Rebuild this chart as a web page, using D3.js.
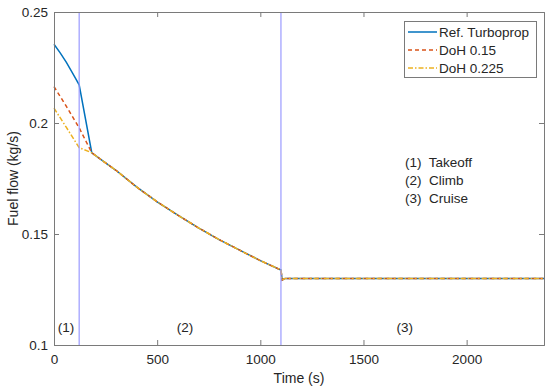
<!DOCTYPE html>
<html>
<head>
<meta charset="utf-8">
<script src="https://cdn.jsdelivr.net/npm/d3@7"></script>
<style>
  body { margin: 0; background: #fff; }
  svg text { font-family: Arial, "Liberation Sans", sans-serif; fill: #262626; }
</style>
</head>
<body>
<script>
// fuel flow series (time s, kg/s)
var climbT = [183, 250, 300, 400, 500, 600, 700, 800, 900, 1000, 1100, 1106, 1120, 1500, 2000, 2375];
var climbV = [0.1866, 0.1820, 0.1787, 0.1712, 0.1645, 0.1585, 0.1528, 0.1475, 0.1427, 0.1380, 0.1338, 0.1293, 0.1300, 0.1300, 0.1300, 0.1300];

var refT = [0, 30, 60, 90, 122];
var refV = [0.2355, 0.2316, 0.2273, 0.2225, 0.2172];
var doh15T = [0, 60, 122];
var doh15V = [0.2164, 0.2075, 0.1978];
var doh225T = [0, 60, 122];
var doh225V = [0.2067, 0.1980, 0.1889];

var seriesNames = ['Ref. Turboprop', 'DoH 0.15', 'DoH 0.225'];
var seriesColors = ['#0072BD', '#D95319', '#EDB120'];
var seriesDash = [null, '4,3', '5,2,1.5,2'];

var phaseLines = [122, 1100];
var phaseLabels = ['(1)', '(2)', '(3)'];
var phaseLabelT = [58, 635, 1700];
var phaseNotes = ['(1)  Takeoff', '(2)  Climb', '(3)  Cruise'];

var xTicks = [0, 500, 1000, 1500, 2000];
var yTicks = [0.1, 0.15, 0.2, 0.25];

var w = 550, h = 391;
var margin = { top: 12, right: 6, bottom: 46, left: 54 };
var width = w - margin.left - margin.right;
var height = h - margin.top - margin.bottom;

var x = d3.scaleLinear().domain([0, 2375]).range([0, width]);
var y = d3.scaleLinear().domain([0.1, 0.25]).range([height, 0]);

var svg = d3.select("body").append("svg")
  .attr("width", w).attr("height", h);
var chart = svg.append("g")
  .attr("transform", "translate(" + margin.left + "," + margin.top + ")");

function build(t, v) {
  var pts = t.map(function(d, i) { return [d, v[i]]; });
  return pts.concat(climbT.map(function(d, i) { return [d, climbV[i]]; }));
}
var series = [build(refT, refV), build(doh15T, doh15V), build(doh225T, doh225V)];

var line = d3.line()
  .x(function(d) { return x(d[0]); })
  .y(function(d) { return y(d[1]); });

series.forEach(function(s, i) {
  chart.append("path")
    .datum(s)
    .attr("fill", "none")
    .attr("stroke", seriesColors[i])
    .attr("stroke-width", 1.5)
    .attr("stroke-dasharray", seriesDash[i])
    .attr("d", line);
});

chart.selectAll(".phase")
  .data(phaseLines)
  .enter().append("line")
  .attr("x1", function(d) { return x(d); })
  .attr("x2", function(d) { return x(d); })
  .attr("y1", 0).attr("y2", height)
  .attr("stroke", "#9a9aff")
  .attr("stroke-width", 1.2);

// axes, matlab style box with inner ticks
var axisColor = "#7a7a7a";
var xAxis = d3.axisBottom(x).tickValues(xTicks).tickSize(-5).tickPadding(9).tickFormat(d3.format("d"));
var xTop = d3.axisTop(x).tickValues(xTicks).tickSize(-5).tickFormat("");
var yAxis = d3.axisLeft(y).tickValues(yTicks).tickSize(-5).tickPadding(6).tickFormat(function(d) { return String(+d.toFixed(2)); });
var yRight = d3.axisRight(y).tickValues(yTicks).tickSize(-5).tickFormat("");

chart.append("g").attr("transform", "translate(0," + height + ")").call(xAxis);
chart.append("g").call(xTop);
chart.append("g").call(yAxis);
chart.append("g").attr("transform", "translate(" + width + ",0)").call(yRight);
chart.selectAll(".domain, .tick line").attr("stroke", axisColor);
chart.selectAll(".tick text").attr("font-size", 13.5).attr("fill", "#262626");

// phase labels
chart.selectAll(".plab")
  .data(phaseLabels)
  .enter().append("text")
  .attr("x", function(d, i) { return x(phaseLabelT[i]); })
  .attr("y", y(0.108))
  .attr("dy", "0.35em")
  .attr("text-anchor", "middle")
  .attr("font-size", 13.5)
  .text(function(d) { return d; });

chart.selectAll(".note")
  .data(phaseNotes)
  .enter().append("text")
  .attr("x", 351)
  .attr("y", function(d, i) { return 150 + i * 18; })
  .attr("dy", "0.35em")
  .attr("font-size", 13.5)
  .style("white-space", "pre")
  .text(function(d) { return d; });

// legend
var legend = svg.append("g");
legend.append("rect")
  .attr("x", 404.5).attr("y", 21.5)
  .attr("width", 132).attr("height", 56)
  .attr("fill", "#fff").attr("stroke", axisColor);
seriesNames.forEach(function(name, i) {
  var ly = 32 + i * 18;
  legend.append("line")
    .attr("x1", 408).attr("x2", 437)
    .attr("y1", ly).attr("y2", ly)
    .attr("stroke", seriesColors[i])
    .attr("stroke-width", 1.5)
    .attr("stroke-dasharray", seriesDash[i]);
  legend.append("text")
    .attr("x", 439).attr("y", ly)
    .attr("dy", "0.35em")
    .attr("font-size", 13.5)
    .text(name);
});

// axis titles
svg.append("text")
  .attr("x", margin.left + width / 2).attr("y", 378)
  .attr("dy", "0.35em")
  .attr("text-anchor", "middle")
  .attr("font-size", 14)
  .text("Time (s)");
svg.append("text")
  .attr("transform", "translate(13," + (margin.top + height / 2) + ") rotate(-90)")
  .attr("dy", "0.35em")
  .attr("text-anchor", "middle")
  .attr("font-size", 14)
  .text("Fuel flow (kg/s)");
</script>
</body>
</html>
